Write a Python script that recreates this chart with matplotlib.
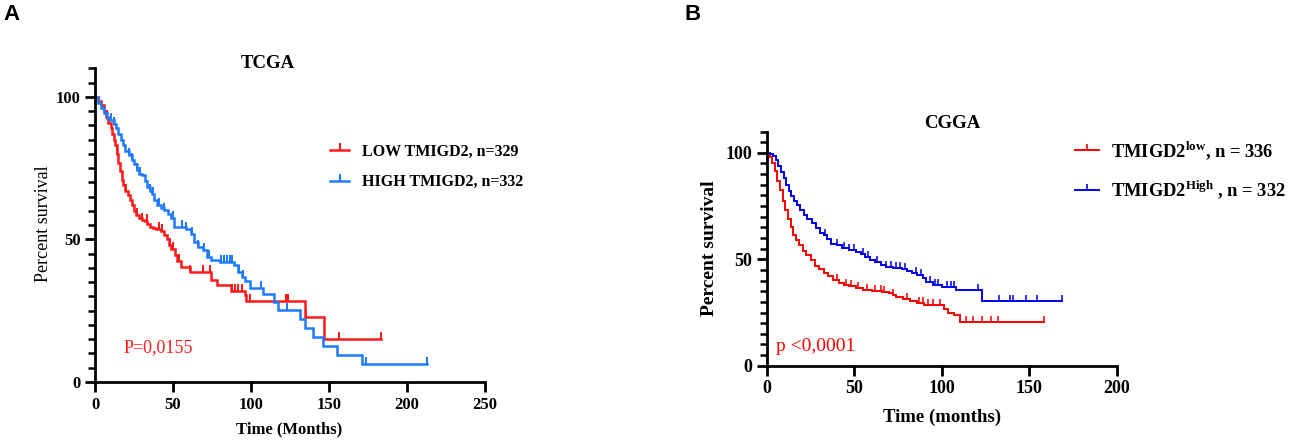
import matplotlib
matplotlib.use('Agg')
import matplotlib.pyplot as plt
from matplotlib.lines import Line2D
from matplotlib.ticker import MultipleLocator
import numpy as np

plt.rcParams['font.family'] = ['Liberation Serif', 'DejaVu Serif']
plt.rcParams['mathtext.fontset'] = 'custom'
plt.rcParams['mathtext.rm'] = 'Liberation Serif:bold'
plt.rcParams['mathtext.bf'] = 'Liberation Serif:bold'

# ---- A: TCGA ----
tcga_low_t = [0, 2, 4, 5.5, 7, 8.5, 10, 11, 12, 13, 14, 15, 16, 17, 18, 19.5, 21, 22.5, 24, 25,
              26.5, 28, 30, 32, 33.5, 35, 37, 39, 42, 44, 46, 47.5, 49, 51, 52.5, 55, 61, 74.2,
              78.5, 87, 96, 97, 134.4, 146.7, 183.4]
tcga_low_s = [100, 98.5, 97, 95, 93, 91, 89, 87, 85, 83, 80, 77, 74, 71, 69, 67, 65.5, 64, 62, 60,
              58.5, 57.5, 57, 56.5, 55.5, 54.5, 54, 53.5, 53, 51.5, 50, 48, 46.5, 44.5, 42.5, 40.5,
              38.5, 35.7, 33.9, 32, 30.5, 28.5, 22.8, 15.2, 15.2]
tcga_low_cens = [8, 14, 20, 27, 30, 33, 41, 43, 48, 50, 54, 61, 69, 74, 87.6, 89.7, 91.9, 94.4,
                 99.3, 122.6, 123.5, 135.5, 156.7, 183.4]

tcga_high_t = [0, 2, 4, 5.5, 7.5, 9.5, 12, 13.5, 15, 16.5, 18, 19.5, 21.5, 23.5, 25, 27, 28.5, 30,
               32, 33.5, 35, 36.5, 38, 40, 42, 44, 47, 48.5, 50.5, 58, 61.4, 63.6, 66, 69, 72,
               74.4, 80, 89.4, 91.6, 94, 96, 99.5, 107.5, 114.6, 117.6, 131.2, 134.4, 139.8,
               146.2, 155.3, 171, 212.9]
tcga_high_s = [100, 98, 96, 94.5, 92.6, 92, 90.5, 89, 87, 85, 83, 81, 79.5, 78, 76.5, 74.5, 73,
               72.5, 70.5, 68.5, 67, 66, 64, 62, 61, 60.5, 59, 57.5, 54.5, 53.5, 52, 49, 47.5,
               46.3, 44, 42.8, 42, 41, 38.7, 37, 35.5, 32.8, 30.7, 28, 25.4, 22.2, 19.1, 15.8,
               12.5, 9.4, 6.2, 6.2]
tcga_high_cens = [10, 12, 22, 24, 27, 29, 35, 37, 41, 44, 50, 56, 58, 62, 66, 70, 73, 80.6, 82.8,
                  84.9, 86.6, 88, 92, 95, 106.5, 123, 173.8, 212.9]

# ---- B: CGGA ----
cgga_low_t = [0, 1.5, 3, 4.5, 6, 7.5, 9, 10.5, 12, 13.5, 15, 16.5, 18.5, 20.5, 22.5, 25, 27.5, 30,
              32.5, 35, 38, 41, 44, 47, 51, 55, 60, 66, 70, 72, 74, 78, 82, 85.5, 90, 97, 101,
              103.6, 107, 110.3, 158.5]
cgga_low_s = [100, 98, 95, 91.5, 87, 82.5, 77.5, 73, 69, 65, 61.5, 59, 56.5, 54, 52, 49.5, 47,
              45.5, 43.5, 42, 40.5, 39, 38, 37.5, 36.5, 35.8, 35, 34.7, 34, 33.3, 32.5, 31.5,
              30.5, 29.3, 28.5, 28.3, 26.8, 24.6, 23.6, 20.7, 20.7]
cgga_low_cens = [40, 45, 48, 52, 57, 62, 65, 67, 72, 80, 87, 89, 92, 95, 99, 113.5, 117.9, 122.7,
                 128, 132.2, 158.5]

cgga_high_t = [0, 2, 3.5, 5, 6.5, 8, 9.5, 11, 12.5, 14, 15.5, 17, 19, 21, 23, 25.5, 28, 30.5,
               32.5, 34.5, 36.5, 40, 43, 47, 51, 53.5, 56, 59, 62, 65, 68, 72, 77, 80, 83, 86,
               89, 91, 95, 100, 108, 123, 168.7]
cgga_high_s = [100, 99.5, 98.5, 96.5, 94, 91, 88, 85, 82, 79.5, 77.5, 75.5, 73, 71, 69, 67, 64.5,
               62.5, 61.5, 59.5, 57, 56.5, 55.5, 54.5, 53.5, 52.5, 51, 49.5, 48.5, 47.5, 46.5,
               46, 45.5, 44.5, 43.5, 42.5, 41, 39.5, 38, 37, 35.5, 30.4, 30.4]
cgga_high_cens = [33, 40, 44, 47, 50, 55, 58, 63, 68, 71, 74, 76, 79, 85, 88, 93, 96, 98, 103,
                  105, 107, 120.4, 132.6, 138.9, 140.4, 147.8, 154.1, 168.7]


def km(ax, t, s, cens, color, lw, ms):
    t = np.array(t)
    s = np.array(s)
    ax.plot(t, s, drawstyle='steps-post', color=color, lw=lw, solid_joinstyle='miter')
    idx = np.searchsorted(t, cens, side='right') - 1
    ax.plot(cens, s[idx], ls='none', marker=2, color=color, ms=ms, mew=lw * 0.8)


def style_axes(ax, xmax, xstep, tick_size):
    for side in ['top', 'right']:
        ax.spines[side].set_visible(False)
    for side in ['left', 'bottom']:
        ax.spines[side].set_linewidth(2)
    ax.set_xlim(0, xmax)
    ax.set_ylim(0, 110)
    ax.xaxis.set_major_locator(MultipleLocator(xstep))
    ax.yaxis.set_major_locator(MultipleLocator(50))
    ax.yaxis.set_minor_locator(MultipleLocator(5))
    ax.tick_params(which='major', length=7, width=2, labelsize=tick_size, direction='out')
    ax.tick_params(which='minor', length=5, width=1.8)
    for lab in ax.get_xticklabels() + ax.get_yticklabels():
        lab.set_fontweight('bold')


fig = plt.figure(figsize=(12.98, 4.41), dpi=100)

# ---------- Panel A ----------
axA = fig.add_axes([0.0732, 0.1338, 0.3005, 0.711])
km(axA, tcga_low_t, tcga_low_s, tcga_low_cens, '#ff1a1a', 1.8, 5)
km(axA, tcga_high_t, tcga_high_s, tcga_high_cens, '#1e7bff', 1.8, 5)
style_axes(axA, 250, 50, 12)
axA.text(18, 12.2, 'P=0,0155', color='#ff1a1a', fontsize=13, va='center')

fig.text(268 / 1298, 1 - 63 / 441, 'TCGA', ha='center', va='center', fontsize=13.5, fontweight='bold')
fig.text(43 / 1298, 1 - 224 / 441, 'Percent survival', rotation=90, ha='center', va='center', fontsize=13)
fig.text(289 / 1298, 1 - 429 / 441, 'Time (Months)', ha='center', va='center', fontsize=12, fontweight='bold')
fig.text(3 / 1298, 1 - 14 / 441, 'A', ha='left', va='center', fontsize=16, fontweight='bold',
         family='Liberation Sans')

hA = [Line2D([], [], color='#ff1a1a', lw=1.8, marker=2, ms=5, mew=1.5),
      Line2D([], [], color='#1e7bff', lw=1.8, marker=2, ms=5, mew=1.5)]
legA = axA.legend(hA, ['LOW TMIGD2, n=329', 'HIGH TMIGD2, n=332'], loc='upper left',
                  bbox_to_anchor=(330 / 1298, 1 - 144 / 441), bbox_transform=fig.transFigure,
                  frameon=False, borderpad=0, borderaxespad=0, handlelength=1.2, handletextpad=0.8,
                  labelspacing=0.9, numpoints=1, prop={'size': 11.5, 'weight': 'bold'})

# ---------- Panel B ----------
axB = fig.add_axes([0.5909, 0.1707, 0.2696, 0.531])
km(axB, cgga_low_t, cgga_low_s, cgga_low_cens, '#ff0000', 1.4, 4)
km(axB, cgga_high_t, cgga_high_s, cgga_high_cens, '#0000ee', 1.4, 4)
style_axes(axB, 200, 50, 13)
axB.text(5.1, 8.9, 'p <0,0001', color='#ff0000', fontsize=14, va='center')

fig.text(952 / 1298, 1 - 123 / 441, 'CGGA', ha='center', va='center', fontsize=13.5, fontweight='bold')
fig.text(710 / 1298, 1 - 248 / 441, 'Percent survival', rotation=90, ha='center', va='center',
         fontsize=14, fontweight='bold')
fig.text(942 / 1298, 1 - 417 / 441, 'Time (months)', ha='center', va='center', fontsize=13.5, fontweight='bold')
fig.text(685 / 1298, 1 - 14 / 441, 'B', ha='left', va='center', fontsize=16, fontweight='bold',
         family='Liberation Sans')

hB = [Line2D([], [], color='#ff0000', lw=1.4, marker=2, ms=4, mew=1.2),
      Line2D([], [], color='#0000ee', lw=1.4, marker=2, ms=4, mew=1.2)]
legB = axB.legend(hB, [r'TMIGD2$^{\mathrm{low}}$, n = 336', r'TMIGD2$^{\mathrm{High}}$ , n = 332'],
                  loc='upper left', bbox_to_anchor=(1075 / 1298, 1 - 139 / 441),
                  bbox_transform=fig.transFigure, frameon=False, borderpad=0, borderaxespad=0,
                  handlelength=1.3, handletextpad=0.65, labelspacing=0.9, numpoints=1,
                  prop={'size': 13.3, 'weight': 'bold'})

fig.savefig('out.png', dpi=100)
